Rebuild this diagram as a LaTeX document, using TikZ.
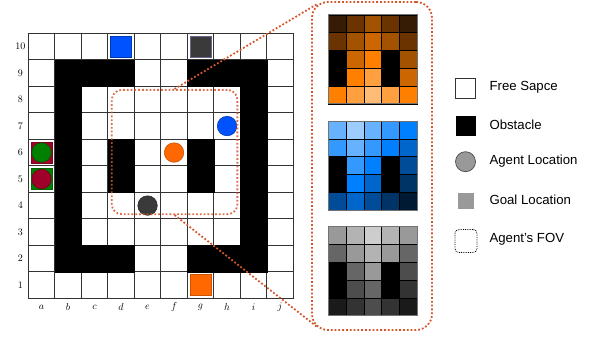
\documentclass[tikz,border=0pt]{standalone}
\usepackage{fontspec}
\setsansfont{Liberation Sans}
\usepackage{tikz}
\usetikzlibrary{calc}

\definecolor{fovred}{RGB}{214,86,44}
\definecolor{agblue}{RGB}{0,82,255}
\definecolor{agorange}{RGB}{255,104,0}
\definecolor{aggray}{RGB}{58,58,58}
\definecolor{aggreen}{RGB}{0,128,0}
\definecolor{agred}{RGB}{160,0,42}
% orange levels (light to dark)
\definecolor{og0}{HTML}{FFBC74}
\definecolor{og1}{HTML}{FFA040}
\definecolor{og2}{HTML}{FF8000}
\definecolor{og3}{HTML}{CC6600}
\definecolor{og4}{HTML}{A35200}
\definecolor{og5}{HTML}{6B3300}
\definecolor{og6}{HTML}{361C04}
% blue levels
\definecolor{bl0}{HTML}{9DCDFF}
\definecolor{bl1}{HTML}{66B2FF}
\definecolor{bl2}{HTML}{3399FF}
\definecolor{bl3}{HTML}{0080FF}
\definecolor{bl4}{HTML}{0066CC}
\definecolor{bl5}{HTML}{004C99}
\definecolor{bl6}{HTML}{003366}
\definecolor{bl7}{HTML}{001A33}
% gray levels
\definecolor{gr0}{HTML}{CDCDCD}
\definecolor{gr1}{HTML}{B3B3B3}
\definecolor{gr2}{HTML}{999999}
\definecolor{gr3}{HTML}{666666}
\definecolor{gr4}{HTML}{4D4D4D}
\definecolor{gr5}{HTML}{333333}
\definecolor{gr6}{HTML}{1A1A1A}

\begin{document}
\begin{tikzpicture}[x=1pt, y=1pt, every node/.style={font=\fontsize{10}{12}\selectfont},
    cell/.style={draw=black!80, line width=0.8pt},
    goal/.style={rectangle, minimum size=21pt, inner sep=0pt, line width=0.9pt},
    agent/.style={circle, minimum size=19.5pt, inner sep=0pt, line width=0.6pt},
    fov/.style={draw=fovred, line width=1.8pt, dash pattern=on 1.8pt off 2pt},
    mini/.style={draw=black, line width=0.6pt},
    legtext/.style={anchor=west, font=\sffamily\fontsize{13.2}{15}\selectfont}]
  \useasboundingbox (0,0) rectangle (594,338);

  % main grid
  \begin{scope}[shift={(28.3,39.7)}, x=26.5pt, y=26.5pt]
    \foreach \i in {0,...,9}
      \foreach \j in {0,...,9}
        \draw[cell] (\i,\j) rectangle ++(1,1);
    \foreach \c/\r in {2/9,3/9,4/9,7/9,8/9,9/9,2/2,3/2,4/2,7/2,8/2,9/2,
                       2/3,2/4,2/5,2/6,2/7,2/8,9/3,9/4,9/5,9/6,9/7,9/8,
                       4/5,4/6,7/5,7/6}
      \filldraw[black] (\c-1,\r-1) rectangle ++(1,1);
    \foreach \r in {1,...,10}
      \node (row\r) at (-0.3,\r-0.5) {\r};
    \foreach \l [count=\c] in {a,b,c,d,e,f,g,h,i,j}
      \node (col\l) at (\c-0.5,-0.33) {$\l$};

    % goals
    \node[goal, fill=agblue, draw=agblue!70!black] (gblue) at (3.5,9.5) {};
    \node[goal, fill=aggray, draw=black!30!blue!20!gray] (ggray) at (6.5,9.5) {};
    \node[goal, fill=agorange, draw=agorange!80!black] (gorange) at (6.5,0.5) {};
    \node[goal, fill=agred, draw=agred!80!black] (gred) at (0.5,5.5) {};
    \node[goal, fill=aggreen, draw=aggreen!80!black] (ggreen) at (0.5,4.5) {};

    % agents
    \node[agent, fill=aggreen, draw=aggreen!70!black] (agreen) at (0.5,5.5) {};
    \node[agent, fill=agred, draw=agred!70!black] (ared) at (0.5,4.5) {};
    \node[agent, fill=agblue, draw=agblue!70!black] (ablue) at (7.5,6.5) {};
    \node[agent, fill=agorange, draw=agorange!80!black] (aorange) at (5.5,5.5) {};
    \node[agent, fill=aggray, draw=aggray!80!black] (agray) at (4.5,3.5) {};

    % field of view of the orange agent
    \node[fov, rounded corners=10pt, opacity=0.85, minimum width=125.6pt,
          minimum height=124.3pt, inner sep=0pt] (fov) at (5.52,5.52) {};
  \end{scope}

  % zoomed-in box
  \node[fov, rounded corners=16pt, minimum width=120pt, minimum height=328pt,
        inner sep=0pt] (zoom) at (372,172) {};
  \coordinate (zoomtop) at ($(zoom.north west)+(6,-3)$);
  \coordinate (zoombot) at ($(zoom.south west)+(6,4)$);
  \draw[fov] (fov.north) -- (zoomtop);
  \draw[fov] (fov.south) -- (zoombot);

  % orange map
  \begin{scope}[shift={(328.3,234)}, x=17.8pt, y=17.8pt]
    \foreach \row [count=\r] in {{og6,og5,og4,og5,og6},{og5,og4,og3,og4,og5},
        {black,og3,og2,black,og4},{black,og2,og1,black,og3},{og2,og1,og0,og1,og2}}
      \foreach \col [count=\c] in \row
        \filldraw[mini, fill=\col] (\c-1,5-\r) rectangle ++(1,1);
    \draw[black!55, line width=1pt] (0,0) rectangle (5,5);
  \end{scope}

  % blue map
  \begin{scope}[shift={(328.3,128)}, x=17.8pt, y=17.8pt]
    \foreach \row [count=\r] in {{bl1,bl0,bl1,bl2,bl3},{bl2,bl1,bl2,bl3,bl4},
        {black,bl2,bl3,black,bl5},{black,bl3,bl4,black,bl6},{bl5,bl4,bl5,bl6,bl7}}
      \foreach \col [count=\c] in \row
        \filldraw[mini, fill=\col] (\c-1,5-\r) rectangle ++(1,1);
    \draw[black!55, line width=1pt] (0,0) rectangle (5,5);
  \end{scope}

  % gray map
  \begin{scope}[shift={(328.3,22.3)}, x=17.8pt, y=17.8pt]
    \foreach \row [count=\r] in {{gr2,gr1,gr0,gr1,gr2},{gr3,gr2,gr1,gr2,gr3},
        {black,gr3,gr2,black,gr4},{black,gr4,gr3,black,gr5},{gr6,gr5,gr4,gr5,gr6}}
      \foreach \col [count=\c] in \row
        \filldraw[mini, fill=\col] (\c-1,5-\r) rectangle ++(1,1);
    \draw[black!55, line width=1pt] (0,0) rectangle (5,5);
  \end{scope}

  % legend
  \node[draw=black!80, line width=0.7pt, minimum size=20pt, inner sep=0pt] (lfree) at (465.5,250) {};
  \node[legtext] (tfree) at (486,251) {Free Sapce};
  \node[fill=black, minimum size=20pt, inner sep=0pt] (lobs) at (465.5,212.5) {};
  \node[legtext] (tobs) at (486,213) {Obstacle};
  \node[circle, fill=gr2, draw=black!70, line width=0.7pt, minimum size=20pt, inner sep=0pt] (lagent) at (465.5,176.3) {};
  \node[legtext] (tagent) at (486,176.5) {Agent Location};
  \node[fill=gr2, minimum size=16pt, inner sep=0pt] (lgoal) at (465.7,137.5) {};
  \node[legtext] (tgoal) at (486,138.5) {Goal Location};
  \node[draw=black, line width=0.8pt, dash pattern=on 0.8pt off 1pt, rounded corners=4pt,
        minimum width=22pt, minimum height=23pt, inner sep=0pt] (lfov) at (466,97) {};
  \node[legtext] (tfov) at (486,98.5) {Agent's FOV};
\end{tikzpicture}
\end{document}
